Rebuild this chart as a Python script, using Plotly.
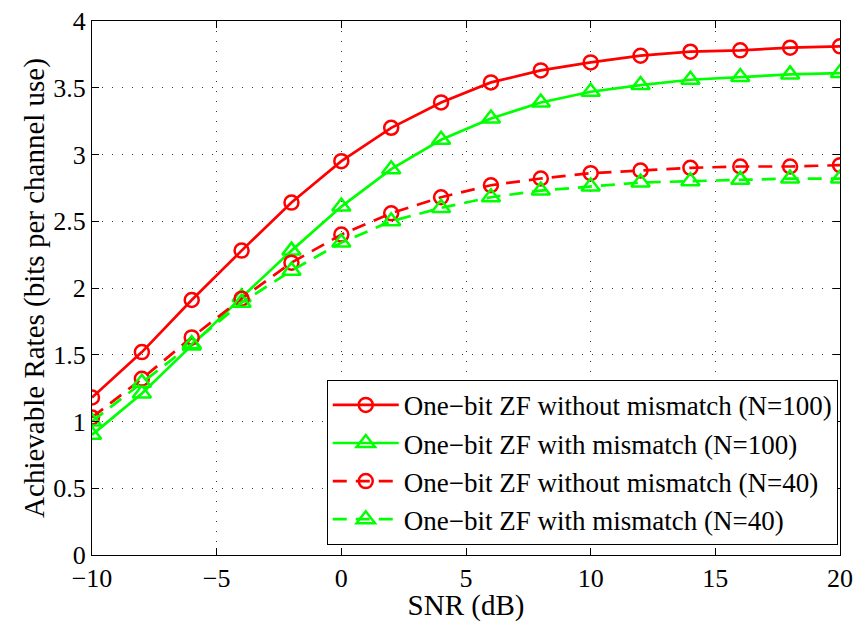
import plotly.graph_objects as go

snr = [-10, -8, -6, -4, -2, 0, 2, 4, 6, 8, 10, 12, 14, 16, 18, 20]
zf_nomis_100 = [1.18, 1.52, 1.91, 2.28, 2.64, 2.95, 3.20, 3.39, 3.54, 3.63, 3.69, 3.74, 3.77, 3.78, 3.80, 3.81]
zf_mis_100 = [0.90, 1.21, 1.57, 1.93, 2.28, 2.61, 2.89, 3.11, 3.27, 3.39, 3.47, 3.52, 3.56, 3.58, 3.60, 3.61]
zf_nomis_40 = [1.03, 1.32, 1.63, 1.92, 2.19, 2.40, 2.56, 2.68, 2.77, 2.82, 2.86, 2.88, 2.90, 2.91, 2.91, 2.92]
zf_mis_40 = [1.00, 1.29, 1.58, 1.89, 2.13, 2.34, 2.50, 2.60, 2.68, 2.73, 2.76, 2.79, 2.80, 2.81, 2.82, 2.82]

names = ["One−bit ZF without mismatch (N=100)",
         "One−bit ZF with mismatch (N=100)",
         "One−bit ZF without mismatch (N=40)",
         "One−bit ZF with mismatch (N=40)"]

RED = "#FF0000"
GREEN = "#00FF00"
FONT = "Liberation Serif"

series = [
    (zf_nomis_100, RED, "solid", "circle-open", 14),
    (zf_mis_100, GREEN, "solid", "triangle-up-open", 16),
    (zf_nomis_40, RED, "14px,9px", "circle-open", 14),
    (zf_mis_40, GREEN, "14px,9px", "triangle-up-open", 16),
]

fig = go.Figure()
for (vals, col, dash, sym, ms), nm in zip(series, names):
    fig.add_trace(go.Scatter(
        x=snr, y=vals, name=nm, mode="lines+markers",
        line=dict(color=col, width=2.7, dash=dash),
        marker=dict(symbol=sym, size=ms, color=col, line=dict(width=2.5, color=col)),
    ))

axis_common = dict(
    showline=True, linecolor="black", linewidth=1.3, mirror="ticks",
    ticks="inside", ticklen=7, tickcolor="black",
    showgrid=True, gridcolor="#333333", griddash="1.2px,8.8px", gridwidth=1.2,
    zeroline=False, automargin=False,
    tickfont=dict(family=FONT, size=26, color="black"),
    title_font=dict(family=FONT, size=29, color="black"),
)

fig.update_xaxes(range=[-10, 20], tickvals=[-10, -5, 0, 5, 10, 15, 20],
                 title_text="SNR (dB)", title_standoff=0, **axis_common)
fig.update_yaxes(range=[0, 4], tickvals=[0, 0.5, 1, 1.5, 2, 2.5, 3, 3.5, 4],
                 ticktext=["0", "0.5", "1", "1.5", "2", "2.5", "3", "3.5", "4"],
                 title_text="Achievable Rates (bits per channel use)", title_standoff=0,
                 **axis_common)

fig.update_layout(
    width=859, height=622,
    margin=dict(l=92, r=19, t=21, b=67, autoexpand=False),
    paper_bgcolor="white", plot_bgcolor="white",
    font=dict(family=FONT, color="black"),
    legend=dict(x=0.997, y=0.019, xanchor="right", yanchor="bottom",
                bgcolor="white", bordercolor="black", borderwidth=1,
                font=dict(family=FONT, size=27, color="black"),
                itemwidth=66, tracegroupgap=0),
    showlegend=True,
)

fig.write_html("out.html")
